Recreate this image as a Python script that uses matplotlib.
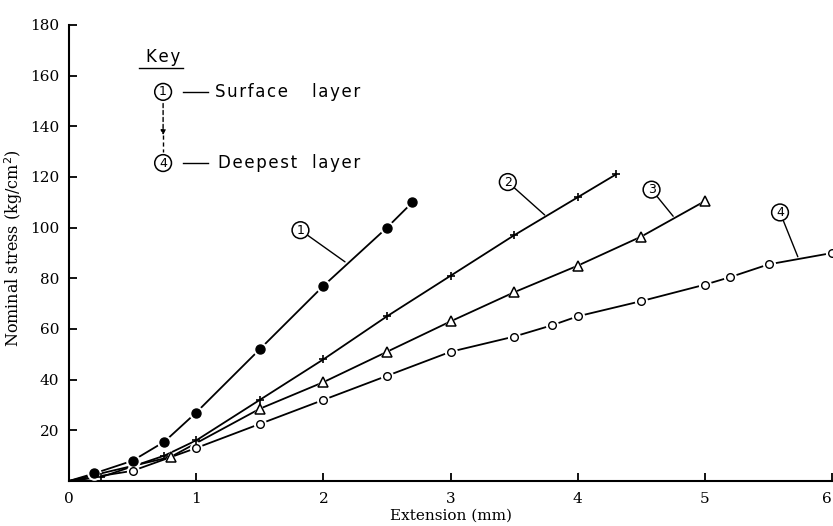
import matplotlib
matplotlib.use("Agg")
import matplotlib.pyplot as plt

# ---- data ----
x1 = [0, 0.2, 0.5, 0.75, 1.0, 1.5, 2.0, 2.5, 2.7]
y1 = [0, 3, 8, 15.5, 27, 52, 77, 100, 110]

x2 = [0, 0.25, 0.75, 1.0, 1.5, 2.0, 2.5, 3.0, 3.5, 4.0, 4.3]
y2 = [0, 1.5, 10, 16, 32, 48, 65, 81, 97, 112, 121]

x3 = [0, 0.8, 1.5, 2.0, 2.5, 3.0, 3.5, 4.0, 4.5, 5.0]
y3 = [0, 9.5, 28.5, 39, 51, 63, 74.5, 85, 96.5, 110.5]

x4 = [0, 0.5, 1.0, 1.5, 2.0, 2.5, 3.0, 3.5, 3.8, 4.0, 4.5, 5.0, 5.2, 5.5, 6.0]
y4 = [0, 4, 13, 22.5, 32, 41.5, 51, 57, 61.5, 65, 71, 77.5, 80.5, 85.5, 90]

xticks = [0, 1, 2, 3, 4, 5, 6]
yticks = [20, 40, 60, 80, 100, 120, 140, 160, 180]

serif = ["DejaVu Serif"]
sans = ["DejaVu Sans"]

fig = plt.figure(figsize=(8.33, 5.26), dpi=100)
ax = fig.add_axes([0.0828, 0.0856, 0.9162, 0.8669])
ax.set_xlim(0, 6)
ax.set_ylim(0, 180)

def series(x, y, marker, ms, mfc, mew=1.0):
    ax.plot(x, y, color="black", lw=1.3, zorder=2, solid_capstyle="butt")
    # white halo gives the small gaps around each point
    ax.plot(x[1:], y[1:], ls="none", marker=marker, ms=ms + 4, mfc="white",
            mec="white", mew=0, zorder=3)
    ax.plot(x[1:], y[1:], ls="none", marker=marker, ms=ms, mfc=mfc,
            mec="black", mew=mew, zorder=4)

series(x1, y1, "o", 6.5, "black")
series(x2, y2, "+", 6, "none", 1.2)
series(x3, y3, "^", 6.5, "white", 1.1)
series(x4, y4, "o", 5.5, "white", 1.0)

for s in ["top", "right"]:
    ax.spines[s].set_visible(False)
ax.spines["left"].set_linewidth(1.5)
ax.spines["bottom"].set_linewidth(1.5)

ax.set_xticks(xticks)
ax.set_xticklabels([str(v) for v in xticks], family=serif, fontsize=11)
ax.get_xticklabels()[-1].set_ha("right")
ax.set_yticks(yticks)
ax.set_yticklabels([str(v) for v in yticks], family=serif, fontsize=11)
ax.tick_params(axis="both", direction="in", length=6, width=1.3)
ax.tick_params(axis="x", pad=8)
ax.tick_params(axis="y", pad=7)

ax.set_xlabel("Extension (mm)", family=serif, fontsize=11, labelpad=2)
ax.set_ylabel("Nominal stress (kg/cm$^2$)", family=serif, fontsize=11.5)
ax.yaxis.set_label_coords(-0.057, 0.51)

circ = dict(boxstyle="circle,pad=0.15", fc="white", ec="black", lw=1.1)

# callout labels
callouts = [("1", (1.82, 99.0), (2.17, 86.5)),
            ("2", (3.45, 118.0), (3.74, 105.0)),
            ("3", (4.58, 115.0), (4.75, 104.5)),
            ("4", (5.59, 106.0), (5.73, 88.5))]
for lab, (tx, ty), (px, py) in callouts:
    ax.annotate(lab, xy=(px, py), xytext=(tx, ty), ha="center", va="center",
                family=sans, fontsize=9, bbox=circ,
                arrowprops=dict(arrowstyle="-", lw=1.0, color="black",
                                shrinkA=0, shrinkB=0), zorder=5)

def spaced(word):
    return "\u200a".join(word)

# key
ax.text(0.743, 167.4, spaced("Key"), family=sans, fontsize=12, ha="center", va="center")
ax.plot([0.55, 0.895], [163.2, 163.2], color="black", lw=1.0)
ax.text(0.74, 153.6, "1", family=sans, fontsize=9, ha="center", va="center", bbox=circ)
ax.text(0.74, 125.5, "4", family=sans, fontsize=9, ha="center", va="center", bbox=circ)
ax.annotate("", xy=(0.74, 136.5), xytext=(0.74, 149.0),
            arrowprops=dict(arrowstyle="-|>", lw=1.0, ls=(0, (3, 2)), color="black",
                            mutation_scale=7, shrinkA=0, shrinkB=0))
ax.plot([0.74, 0.74], [136.5, 130.0], color="black", lw=1.0, ls=(0, (3, 2)))
ax.plot([0.90, 1.09], [153.6, 153.6], color="black", lw=1.0)
ax.plot([0.90, 1.09], [125.5, 125.5], color="black", lw=1.0)
ax.text(1.148, 153.6, spaced("Surface"), family=sans, fontsize=12, ha="left", va="center")
ax.text(1.91, 153.6, spaced("layer"), family=sans, fontsize=12, ha="left", va="center")
ax.text(1.17, 125.5, spaced("Deepest"), family=sans, fontsize=12, ha="left", va="center")
ax.text(1.91, 125.5, spaced("layer"), family=sans, fontsize=12, ha="left", va="center")

fig.savefig("out.png", dpi=100)
